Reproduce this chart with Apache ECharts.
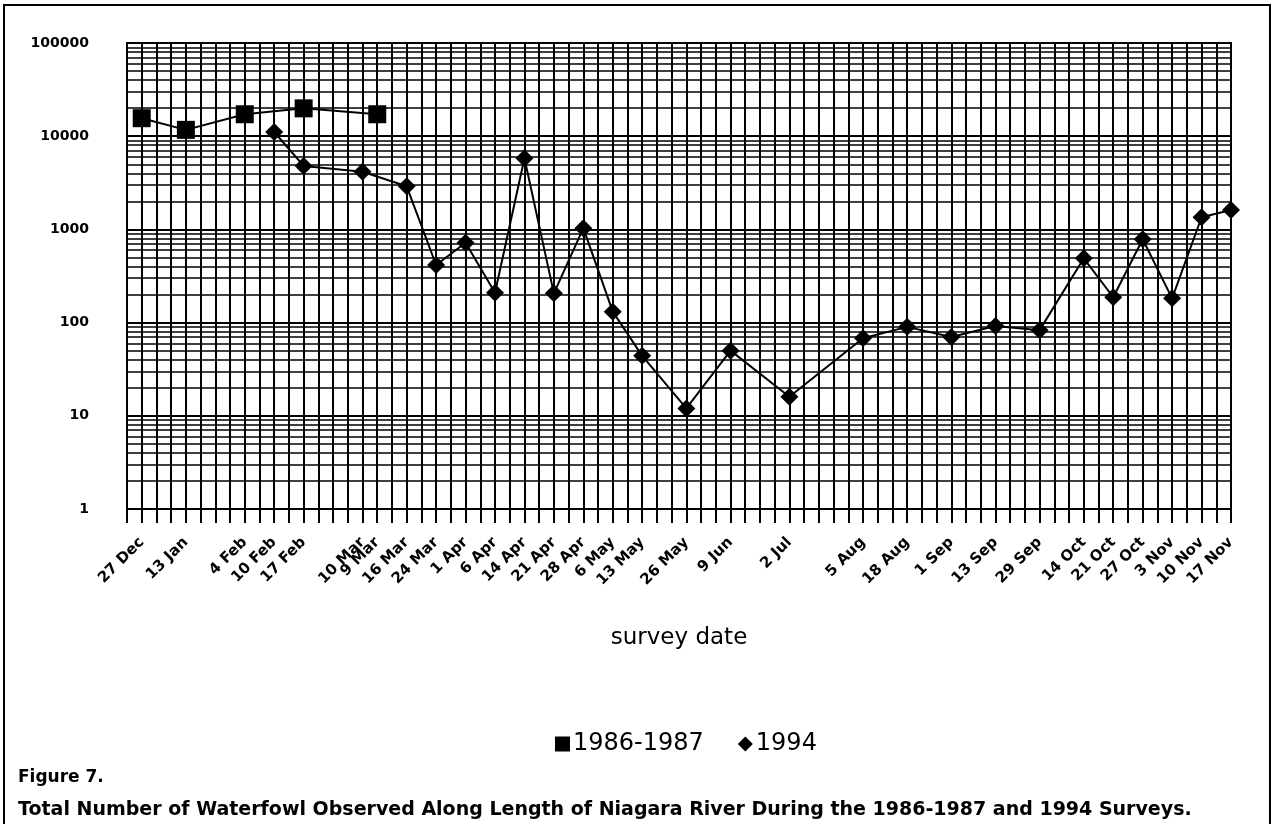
<!DOCTYPE html>
<html><head><meta charset="utf-8">
<script src="https://cdn.jsdelivr.net/npm/echarts@6/dist/echarts.min.js"></script>
<style>html,body{margin:0;padding:0;background:#fff}#c{width:1275px;height:824px}</style>
</head><body><div id="c"></div>
<script>
// Survey dates, their slot on the original category axis, and waterfowl counts
const dates8687 = ['27 Dec', '13 Jan', '4 Feb', '17 Feb', '9 Mar'];
const slots8687 = [1, 4, 8, 12, 17];
const counts8687 = [15600, 11700, 17200, 19900, 17200];

const dates1994 = ['10 Feb', '17 Feb', '10 Mar', '16 Mar', '24 Mar', '1 Apr', '6 Apr', '14 Apr', '21 Apr', '28 Apr',
  '6 May', '13 May', '26 May', '9 Jun', '2 Jul', '5 Aug', '18 Aug', '1 Sep', '13 Sep', '29 Sep',
  '14 Oct', '21 Oct', '27 Oct', '3 Nov', '10 Nov', '17 Nov'];
const slots1994 = [10, 12, 16, 19, 21, 23, 25, 27, 29, 31, 33, 35, 38, 41, 45, 50, 53, 56, 59, 62, 65, 67, 69, 71, 73, 75];
const counts1994 = [11100, 4800, 4150, 2900, 415, 720, 209, 5800, 206, 1030, 131, 44, 12, 50, 16, 68, 90, 70, 92, 83,
  490, 187, 783, 182, 1350, 1615];

const yTickLabels = ['1', '10', '100', '1000', '10000', '100000'];
const seriesNames = ['1986-1987', '1994'];
const xAxisTitle = 'survey date';
const figureLabel = 'Figure 7.';
const caption = 'Total Number of Waterfowl Observed Along Length of Niagara River During the 1986-1987 and 1994 Surveys.';

// lookup slot -> date label
const slotLabel = {};
slots8687.forEach((s, i) => { slotLabel[s] = dates8687[i]; });
slots1994.forEach((s, i) => { slotLabel[s] = dates1994[i]; });

// minor log grid lines (2..9 per decade)
const minorLines = [];
for (let d = 1; d < 100000; d *= 10) {
  for (let k = 2; k <= 9; k++) minorLines.push({ yAxis: k * d });
}

const FONT = '"DejaVu Sans", "Liberation Sans", Arial, sans-serif';
const chart = echarts.init(document.getElementById('c'), null, { renderer: 'canvas' });
chart.setOption({
  backgroundColor: '#fff',
  animation: false,
  grid: { left: 127, right: 44, top: 43, bottom: 315, show: true, borderColor: '#000', borderWidth: 2, containLabel: false },
  xAxis: {
    type: 'value', min: 0, max: 75, interval: 1,
    axisLine: { show: true, lineStyle: { color: '#000', width: 2 } },
    axisTick: { show: true, length: 14, lineStyle: { color: '#000', width: 2 } },
    splitLine: { show: true, lineStyle: { color: '#000', width: 2 } },
    axisLabel: {
      show: true, rotate: 45, margin: 31, color: '#000', fontFamily: FONT, fontWeight: 'bold', fontSize: 15,
      showMinLabel: true, showMaxLabel: true,
      formatter: v => slotLabel[v] || ''
    },
    name: xAxisTitle, nameLocation: 'middle', nameGap: 118,
    nameTextStyle: { color: '#000', fontFamily: FONT, fontSize: 23 }
  },
  yAxis: {
    type: 'log', logBase: 10, min: 1, max: 100000,
    axisLine: { show: true, lineStyle: { color: '#000', width: 2 } },
    axisTick: { show: false },
    splitLine: { show: true, lineStyle: { color: '#000', width: 2 } },
    axisLabel: {
      margin: 38, color: '#000', fontFamily: FONT, fontWeight: 'bold', fontSize: 14,
      formatter: v => yTickLabels[Math.round(Math.log10(v))] || ''
    }
  },
  legend: {
    data: [{ name: seriesNames[0], icon: 'rect' }, { name: seriesNames[1], icon: 'diamond' }],
    left: 550, top: 727, itemWidth: 15, itemHeight: 15, itemGap: 34,
    textStyle: { color: '#000', fontFamily: FONT, fontSize: 24, padding: [0, 0, 0, -2] }
  },
  series: [
    {
      name: 'grid', type: 'line', data: [], silent: true, z: 1,
      markLine: {
        silent: true, symbol: ['none', 'none'], label: { show: false },
        lineStyle: { color: '#000', width: 1.5, type: 'solid' },
        data: minorLines, animation: false
      }
    },
    {
      name: seriesNames[0], type: 'line', z: 5,
      data: slots8687.map((s, i) => [s, counts8687[i]]),
      symbol: 'rect', symbolSize: 18,
      itemStyle: { color: '#000' }, lineStyle: { color: '#000', width: 2 }
    },
    {
      name: seriesNames[1], type: 'line', z: 5,
      data: slots1994.map((s, i) => [s, counts1994[i]]),
      symbol: 'diamond', symbolSize: 18,
      itemStyle: { color: '#000' }, lineStyle: { color: '#000', width: 2 }
    }
  ],
  graphic: [
    { type: 'rect', shape: { x: 4, y: 5, width: 1266, height: 840 }, style: { fill: null, stroke: '#000', lineWidth: 2 }, silent: true },
    { type: 'text', left: 18, top: 769, style: { text: figureLabel, font: 'bold 17px ' + FONT, fill: '#000' } },
    { type: 'text', left: 18, top: 801, style: { text: caption, font: 'bold 19px ' + FONT, fill: '#000' } }
  ]
});
</script></body></html>
